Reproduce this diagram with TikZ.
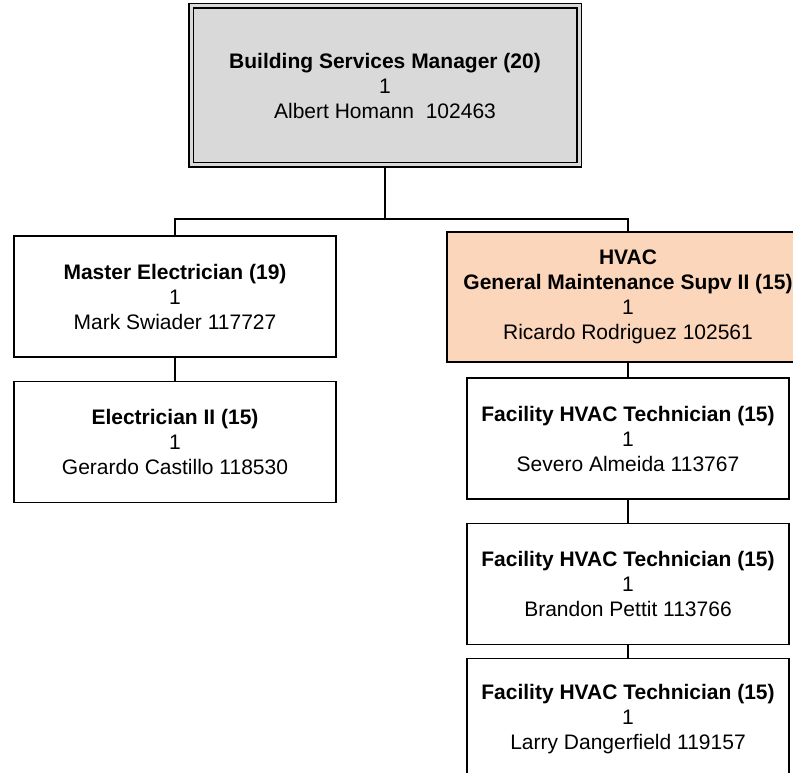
\documentclass[tikz,border=0pt]{standalone}
\usepackage{fontspec}
\setmainfont{Liberation Sans}
\usepackage{xcolor}
\usetikzlibrary{positioning}

\definecolor{mgrgray}{RGB}{217,217,217}
\definecolor{hvacpeach}{RGB}{251,214,186}

\begin{document}
\begin{tikzpicture}[x=1pt,y=-1pt]
  \tikzstyle{post}=[draw,line width=1.2pt,inner sep=0pt,align=center,
    minimum width=322pt,minimum height=121pt,font=\fontsize{21}{25}\selectfont]
  \tikzstyle{head post}=[post,fill=mgrgray,double=mgrgray,double distance=3pt,
    minimum width=388pt,minimum height=159pt]
  \tikzstyle{lead post}=[post,fill=hvacpeach,minimum width=362pt,minimum height=130pt]
  \tikzstyle{link}=[line width=1.2pt]

  \useasboundingbox (0,0) rectangle (793,773);
  \clip (0,0) rectangle (793,773);

  \node [head post] (mgr) at (385,85.5)
    {\textbf{Building Services Manager (20)}\\1\\Albert Homann~ 102463};

  \node [post] (master) at (175,296.5)
    {\textbf{Master Electrician (19)}\\1\\Mark Swiader 117727};
  \node [post, below=23pt of master] (elec)
    {\textbf{Electrician II (15)}\\1\\Gerardo Castillo 118530};

  \node [lead post] (hvac) at (628,297)
    {\textbf{HVAC}\\\textbf{General Maintenance Supv II (15)}\\1\\Ricardo Rodriguez 102561};
  \node [post] (tech1) at (628,438.5)
    {\textbf{Facility HVAC Technician (15)}\\1\\Severo Almeida 113767};
  \node [post, below=23pt of tech1] (tech2)
    {\textbf{Facility HVAC Technician (15)}\\1\\Brandon Pettit 113766};
  \node [post, below=13pt of tech2] (tech3)
    {\textbf{Facility HVAC Technician (15)}\\1\\Larry Dangerfield 119157};

  % reporting lines
  \coordinate (bus) at (385,219);
  \draw [link] (mgr.south) -- (bus);
  \draw [link] (master.north) |- (bus) -| (hvac.north);
  \draw [link] (master) -- (elec);
  \draw [link] (hvac) -- (tech1);
  \draw [link] (tech1) -- (tech2);
  \draw [link] (tech2) -- (tech3);
\end{tikzpicture}
\end{document}
